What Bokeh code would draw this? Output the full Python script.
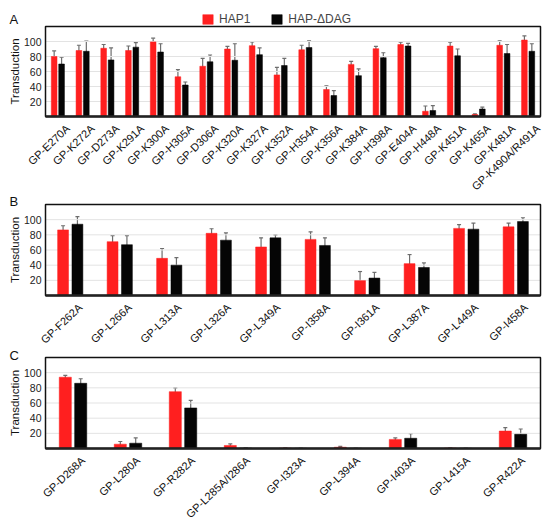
import numpy as np
from bokeh.plotting import figure
from bokeh.models import (ColumnDataSource, Range1d, Whisker, TeeHead, Legend, LegendItem,
                          Label, LabelSet)
from bokeh.core.properties import value
from bokeh.layouts import column
from bokeh.embed import file_html
from bokeh.resources import INLINE

# ---------------- data ----------------
cats_a = ["GP-E270A", "GP-K272A", "GP-D273A", "GP-K291A", "GP-K300A", "GP-H305A", "GP-D306A",
          "GP-K320A", "GP-K327A", "GP-K352A", "GP-H354A", "GP-K356A", "GP-K384A", "GP-H398A",
          "GP-E404A", "GP-H448A", "GP-K451A", "GP-K465A", "GP-K481A", "GP-K490A/R491A"]
hap1_a = [80, 88, 91, 88, 99.5, 53, 67, 90, 94.5, 55.5, 89, 36, 69.5, 90.5, 96, 7, 94, 2.6, 95, 102]
hap1_a_err = [7.5, 7, 5, 6, 5, 9.5, 10.5, 3.5, 5, 10, 6, 5, 4, 3, 3, 7, 5, 1, 6, 5.5]
dag_a = [70, 87, 75.5, 92.5, 86, 42, 73, 75, 82.5, 68, 92, 28, 54.5, 78.5, 94, 8, 81, 10, 84, 87]
dag_a_err = [9, 13.5, 16, 6, 11, 4, 9, 22, 9, 9.5, 9, 6.5, 9, 6.5, 3.5, 6.5, 9, 2.5, 12, 10]

cats_b = ["GP-F262A", "GP-L266A", "GP-L313A", "GP-L326A", "GP-L349A", "GP-I358A", "GP-I361A",
          "GP-L387A", "GP-L449A", "GP-I458A"]
hap1_b = [86.5, 71, 49, 82, 64, 74, 19.6, 42, 88.5, 90.5]
hap1_b_err = [5.5, 8, 13, 6, 12, 10, 12, 12, 5, 5]
dag_b = [94, 67, 40, 73, 76, 66, 23, 37, 87.5, 97.5]
dag_b_err = [10, 12, 10, 9.5, 4, 10, 7.5, 6, 8, 5]

cats_c = ["GP-D268A", "GP-L280A", "GP-R282A", "GP-L285A/I286A", "GP-I323A", "GP-L394A",
          "GP-I403A", "GP-L415A", "GP-R422A"]
hap1_c = [94, 5.7, 75, 4, 0.6, 1.7, 12, 0.6, 23]
hap1_c_err = [2.5, 3.5, 5, 2, 0, 1, 2, 0, 4.5]
dag_c = [86, 7, 53.5, 0.6, 0.3, 0.3, 13.5, 0.3, 18.7]
dag_c_err = [6, 7, 10, 0, 0, 0, 6, 0, 7]

y_ticks = [20, 40, 60, 80, 100]
y_max = 120
series_names = ["HAP1", "HAP-\u0394DAG"]

RED = "#ff1f1f"
BLACK = "#050505"
ERR = "#6e6e6e"
FONT = "Liberation Sans"
W = 542          # canvas width
PL, PR = 45, 540  # plot-area left / right (px)


def make_panel(letter, cats, v1, e1, v2, e2, hc, pt, pb, bw, off, letter_base, legend=False):
    n = len(cats)
    s = (PR - PL) / n                 # px per category
    k = (pb - pt) / y_max             # px per y unit
    xr = Range1d(-PL / s, n + (W - PR) / s)
    yr = Range1d(-(hc - pb) / k, y_max + pt / k)
    p = figure(x_range=xr, y_range=yr, width=W, height=hc, output_backend="svg",
               toolbar_location=None, min_border=0)
    p.axis.visible = False
    p.grid.visible = False
    p.outline_line_color = None

    xc = [i + 0.5 for i in range(n)]
    src = ColumnDataSource(dict(
        xc=xc, x1=[c - off for c in xc], x2=[c + off for c in xc], name=cats,
        v1=v1, v2=v2,
        lo1=[a - b for a, b in zip(v1, e1)], hi1=[a + b for a, b in zip(v1, e1)],
        lo2=[a - b for a, b in zip(v2, e2)], hi2=[a + b for a, b in zip(v2, e2)],
    ))

    # grid lines inside the plot area
    p.segment(x0=0, x1=n, y0=y_ticks, y1=y_ticks, line_color="#e3e3e3", line_width=1)

    r1 = p.vbar(x="x1", top="v1", width=bw, source=src, fill_color=RED, line_color=RED,
                line_width=0.5)
    r2 = p.vbar(x="x2", top="v2", width=bw, source=src, fill_color=BLACK,
                line_color="#000000", line_width=0.5)
    for base, lo, hi in (("x1", "lo1", "hi1"), ("x2", "lo2", "hi2")):
        p.add_layout(Whisker(base=base, lower=lo, upper=hi, source=src,
                             line_color=ERR, line_width=1.2, dimension="height",
                             upper_head=TeeHead(size=4, line_color=ERR, line_width=1.2),
                             lower_head=TeeHead(size=4, line_color=ERR, line_width=1.2)))

    # frame of the plot area and heavy baseline
    p.quad(left=0, right=n, bottom=0, top=y_max, fill_color=None, line_color="#111111",
           line_width=1.5)
    p.segment(x0=0, x1=n, y0=0, y1=0, line_color="#222222", line_width=2.5)

    # y tick labels
    tsrc = ColumnDataSource(dict(y=y_ticks, t=[str(t) for t in y_ticks]))
    p.add_layout(LabelSet(x=0, y="y", text="t", source=tsrc, x_offset=-4,
                          text_align="right", text_baseline="middle",
                          text_font=value(FONT), text_font_size="10.5px",
                          text_color="#222222"))
    # y axis title
    p.add_layout(Label(x=0, y=y_max / 2, x_offset=-25, text="Transduction", angle=np.pi / 2,
                       text_align="center", text_baseline="bottom", text_font=FONT,
                       text_font_size="11.5px", text_color="#111111"))
    # category labels
    p.add_layout(LabelSet(x="xc", y=-10 / k, text="name", source=src, x_offset=10,
                          angle=0.76, text_align="right", text_baseline="middle",
                          text_font=value(FONT), text_font_size="11px",
                          text_color="#111111"))
    # panel letter
    p.add_layout(Label(x=0, y=y_max + (pt - letter_base) / k, x_offset=-36, text=letter,
                       text_align="left", text_baseline="alphabetic", text_font=FONT,
                       text_font_size="13px", text_color="#111111"))

    if legend:
        leg = Legend(items=[LegendItem(label=series_names[0], renderers=[r1]),
                            LegendItem(label=series_names[1], renderers=[r2])],
                     orientation="horizontal", location=(201, hc - 25.5), padding=0,
                     margin=0, spacing=20, glyph_width=13, glyph_height=12, label_standoff=5,
                     label_text_font=FONT, label_text_font_size="12px",
                     border_line_color=None, background_fill_alpha=0)
        p.add_layout(leg)
    return p


pa = make_panel("A", cats_a, hap1_a, hap1_a_err, dag_a, dag_a_err, 191, 26, 116, 0.23, 0.15,
                19, legend=True)
pb = make_panel("B", cats_b, hap1_b, hap1_b_err, dag_b, dag_b_err, 154, 13, 104, 0.22, 0.145,
                10)
pc = make_panel("C", cats_c, hap1_c, hap1_c_err, dag_c, dag_c_err, 178, 12, 103, 0.22, 0.14,
                9.8)

layout = column(pa, pb, pc, spacing=0)
open("out.html", "w").write(file_html(layout, INLINE))
